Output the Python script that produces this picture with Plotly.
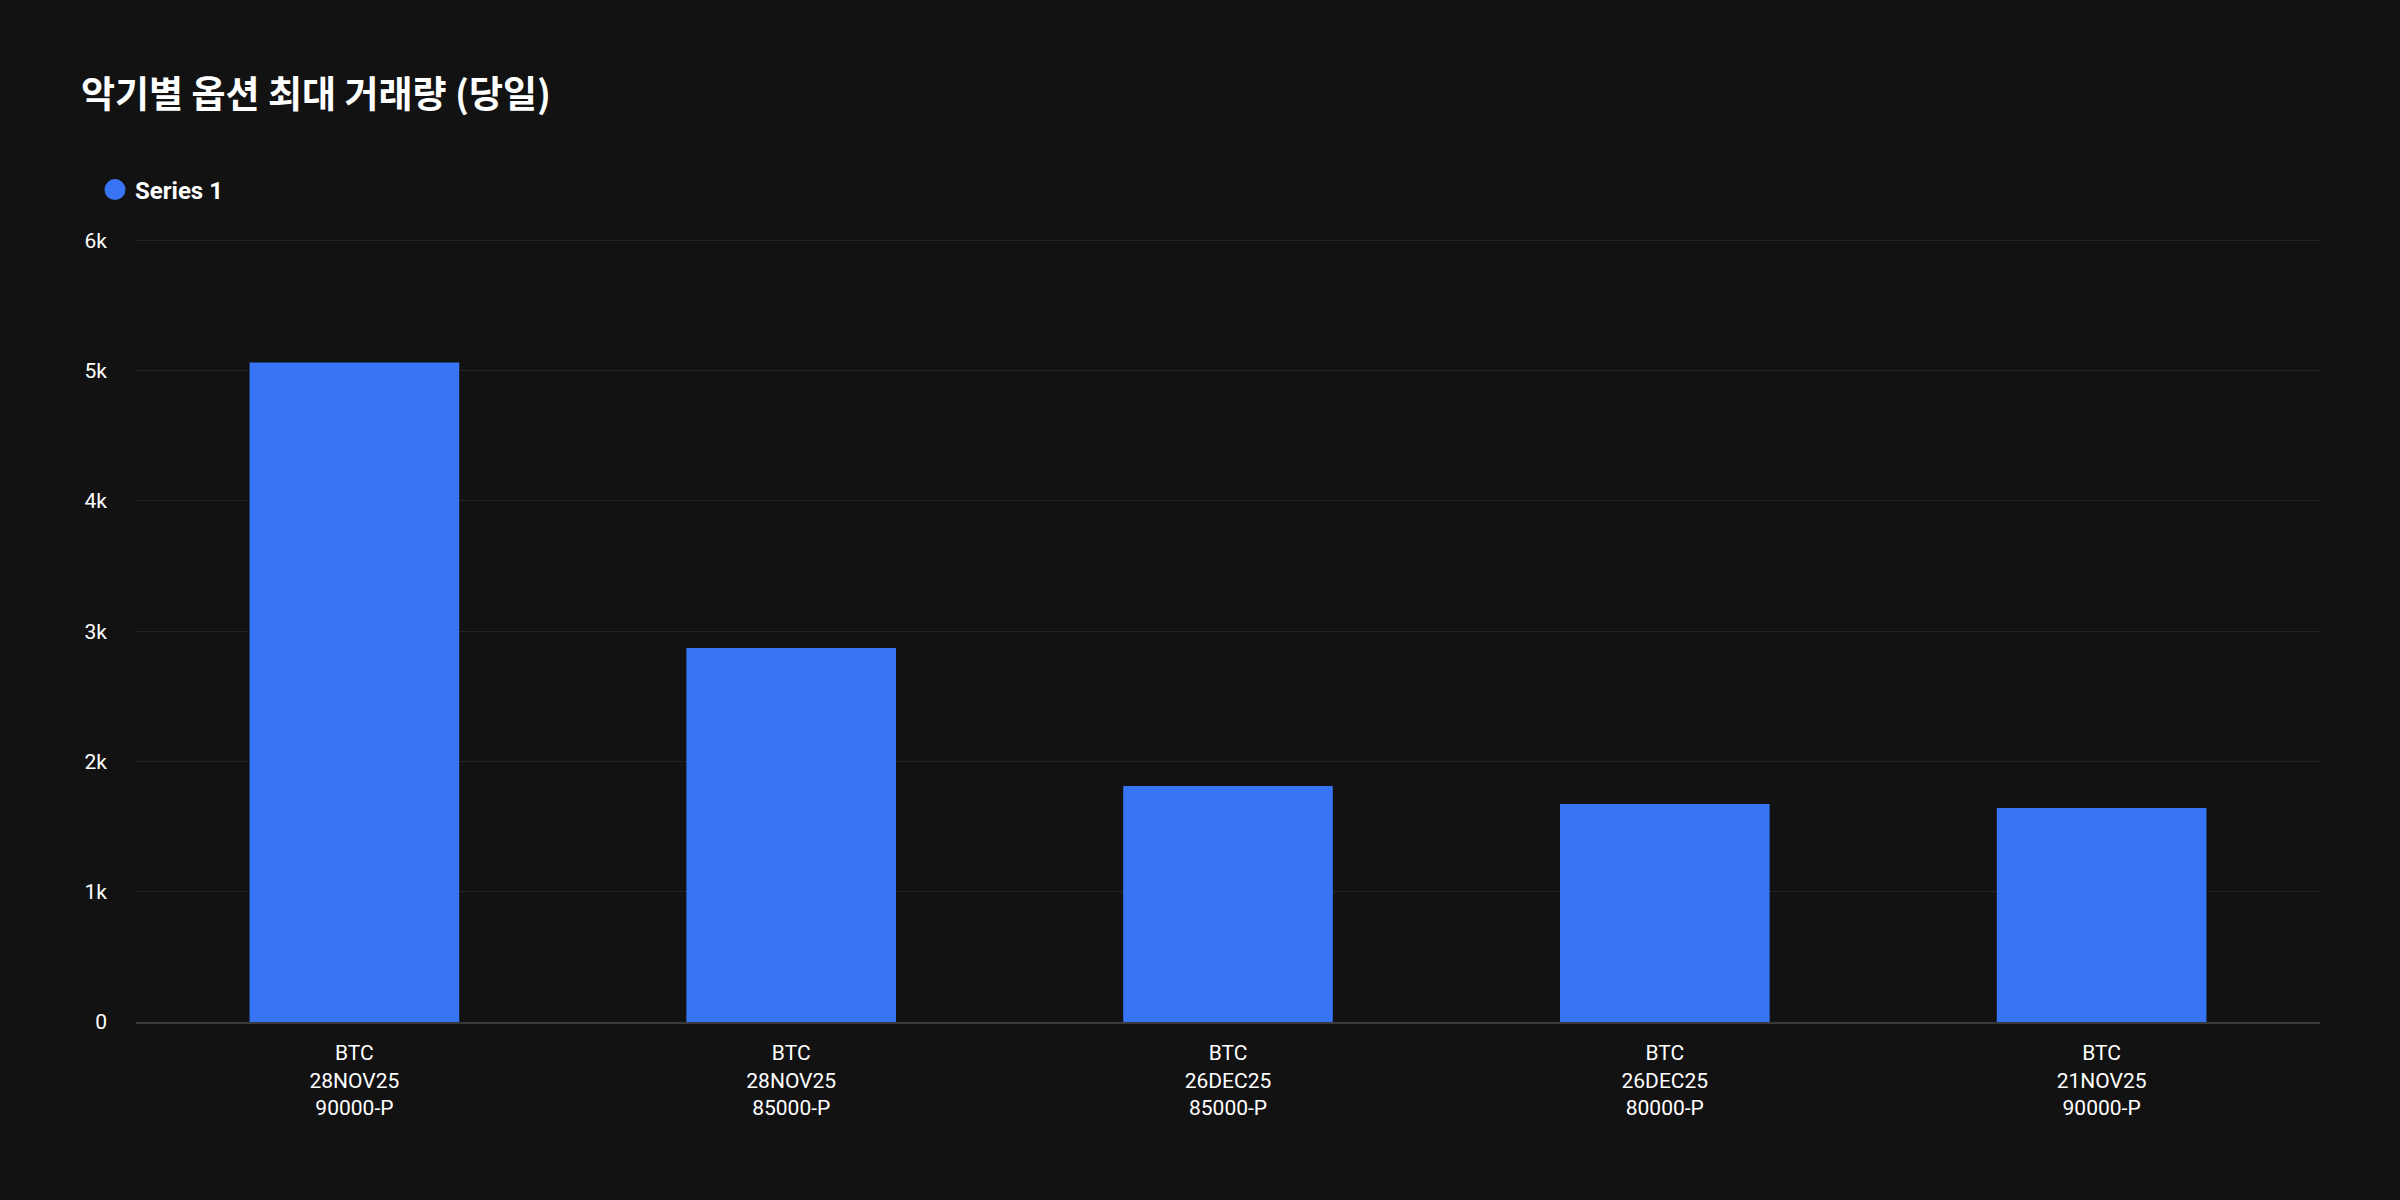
import plotly.graph_objects as go

categories = ["BTC<br>28NOV25<br>90000-P", "BTC<br>28NOV25<br>85000-P", "BTC<br>26DEC25<br>85000-P",
              "BTC<br>26DEC25<br>80000-P", "BTC<br>21NOV25<br>90000-P"]
values = [5063, 2870, 1812, 1674, 1643]
series_name = "Series 1"
title_text = "악기별 옵션 최대 거래량 (당일)"
tick_vals = [0, 1000, 2000, 3000, 4000, 5000, 6000]
tick_text = ["0", "1k", "2k", "3k", "4k", "5k", "6k"]

BAR = "#3875F6"
BG = "#121212"

fig = go.Figure()
fig.add_trace(go.Bar(x=categories, y=values, marker=dict(color=BAR, line=dict(width=0)),
                     name=series_name, showlegend=False))
fig.add_trace(go.Scatter(x=[None], y=[None], mode="markers", name=series_name,
                         marker=dict(color=BAR, size=22, symbol="circle",
                                     line=dict(color=BAR, width=5))))

fig.update_layout(
    width=2400, height=1200,
    paper_bgcolor=BG, plot_bgcolor=BG,
    margin=dict(l=136, r=80, t=239, b=178),
    bargap=0.52,
    font=dict(family="Roboto, 'Noto Sans CJK KR', sans-serif", color="#FFFFFF", size=21),
    title=dict(text=title_text, x=81/2400, xref="container", xanchor="left",
               y=1-95/1200, yref="container", yanchor="middle",
               font=dict(family="'Noto Sans CJK KR', sans-serif", size=37, color="#FFFFFF", weight=600)),
    showlegend=True,
    legend=dict(orientation="h", x=95/2400, xref="container", xanchor="left",
                y=1-190/1200, yref="container", yanchor="middle",
                font=dict(family="Roboto, sans-serif", size=24, color="#FFFFFF", weight=700),
                bgcolor="rgba(0,0,0,0)"),
    xaxis=dict(showgrid=False, zeroline=False, showline=True, linecolor="#3a3a3a", linewidth=2,
               ticks="", tickfont=dict(size=21, color="#FFFFFF"), ticklabelstandoff=11,
               fixedrange=True),
    yaxis=dict(range=[0, 6010], tickvals=tick_vals, ticktext=tick_text, showgrid=True,
               gridcolor="#232323", gridwidth=1, zeroline=False, showline=False,
               tickfont=dict(size=21, color="#FFFFFF"), ticklabelstandoff=28, fixedrange=True),
)

fig.write_html("out.html", config={"displayModeBar": False}, post_script=(
    "document.body.style.margin='0';document.body.style.padding='0';"
    "document.body.style.background='#121212';"
    "document.documentElement.style.background='#121212';"))
